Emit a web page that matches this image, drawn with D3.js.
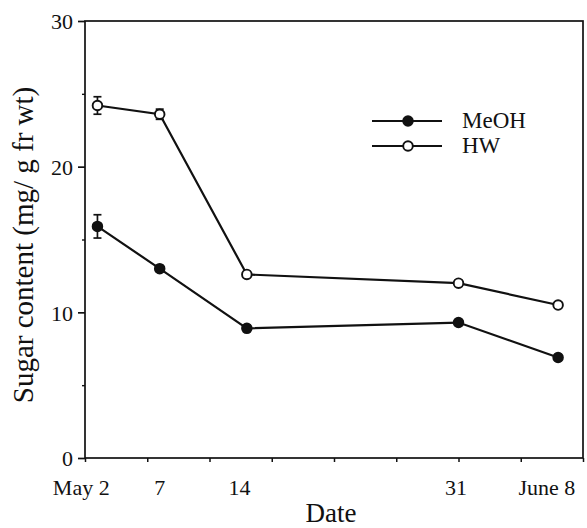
<!DOCTYPE html>
<html>
<head>
<meta charset="utf-8">
<script src="https://cdn.jsdelivr.net/npm/d3@7"></script>
<style>
  body { margin: 0; background: #fff; }
  svg text { font-family: "Liberation Serif", "DejaVu Serif", serif; fill: #111; }
</style>
</head>
<body>
<div id="chart"></div>
<script>
var width = 587,
    height = 528;

// days after May 2
var days = [0, 5, 12, 29, 37];
var meoh = [15.9, 13.0, 8.9, 9.3, 6.9];
var meohErr = [0.8, 0.2, 0.2, 0.2, 0.2];
var hw = [24.2, 23.6, 12.6, 12.0, 10.5];
var hwErr = [0.6, 0.35, 0.2, 0.2, 0.2];

// tick labels and where they sit along the date axis
var dateLabels = ["May 2", "7", "14", "31", "June 8"];
var dateLabelPos = [-1.3, 5, 11.4, 28.8, 36.1];
var yMajor = [0, 10, 20, 30];
var yMinor = [5, 15, 25];

var plotLeft = 85, plotRight = 583, plotTop = 21, plotBottom = 458;

var x = d3.scaleLinear().domain([-1, 39]).range([plotLeft, plotRight]);
var y = d3.scaleLinear().domain([0, 30]).range([plotBottom, plotTop]);

var svg = d3.select("#chart")
  .append("svg")
    .attr("width", width)
    .attr("height", height);

// frame
svg.append("rect")
  .attr("x", plotLeft)
  .attr("y", plotTop)
  .attr("width", plotRight - plotLeft)
  .attr("height", plotBottom - plotTop)
  .attr("fill", "none")
  .attr("stroke", "#111")
  .attr("stroke-width", 1.7);

// y axis
var yAxis = svg.append("g")
  .attr("transform", "translate(" + plotLeft + ",0)")
  .call(d3.axisLeft(y).tickValues(yMajor).tickSize(7).tickPadding(5).tickFormat(d3.format("d")));
yAxis.select(".domain").remove();
yAxis.selectAll("line").attr("stroke", "#111").attr("stroke-width", 1.7);
yAxis.selectAll("text").style("font-size", "22px").attr("dy", "0.35em");

var yAxisMinor = svg.append("g")
  .attr("transform", "translate(" + plotLeft + ",0)")
  .call(d3.axisLeft(y).tickValues(yMinor).tickSize(3).tickFormat(""));
yAxisMinor.select(".domain").remove();
yAxisMinor.selectAll("line").attr("stroke", "#111").attr("stroke-width", 1.4);

// x axis tick marks (every 5 days)
var xAxis = svg.append("g")
  .attr("transform", "translate(0," + plotBottom + ")")
  .call(d3.axisBottom(x).tickValues(d3.range(-1, 40, 5)).tickSize(4).tickFormat(""));
xAxis.select(".domain").remove();
xAxis.selectAll("line").attr("stroke", "#111").attr("stroke-width", 1.5);

// x tick labels
svg.append("g").selectAll("text")
  .data(dateLabels)
  .enter()
  .append("text")
    .attr("x", function(d, i) { return x(dateLabelPos[i]); })
    .attr("y", 495)
    .attr("text-anchor", "middle")
    .style("font-size", "22px")
    .text(function(d) { return d; });

// axis titles
svg.append("text")
  .attr("x", 331)
  .attr("y", 522)
  .attr("text-anchor", "middle")
  .style("font-size", "27px")
  .text("Date");

svg.append("text")
  .attr("transform", "translate(33," + 245 + ") rotate(-90)")
  .attr("text-anchor", "middle")
  .style("font-size", "29px")
  .text("Sugar content (mg/ g fr wt)");

// series
var series = [
  {name: "MeOH", values: meoh, err: meohErr, fill: "#111"},
  {name: "HW", values: hw, err: hwErr, fill: "#fff"}
];

var line = d3.line()
  .x(function(d) { return x(d.day); })
  .y(function(d) { return y(d.value); });

series.forEach(function(s) {
  var pts = days.map(function(d, i) { return {day: d, value: s.values[i], err: s.err[i]}; });

  svg.append("path")
    .datum(pts)
    .attr("d", line)
    .attr("fill", "none")
    .attr("stroke", "#111")
    .attr("stroke-width", 2.2);

  // error bars
  var eb = svg.append("g").selectAll("g")
    .data(pts)
    .enter()
    .append("g");
  eb.append("line")
    .attr("x1", function(d) { return x(d.day); })
    .attr("x2", function(d) { return x(d.day); })
    .attr("y1", function(d) { return y(d.value - d.err); })
    .attr("y2", function(d) { return y(d.value + d.err); })
    .attr("stroke", "#111")
    .attr("stroke-width", 1.7);
  [-1, 1].forEach(function(sign) {
    eb.append("line")
      .attr("x1", function(d) { return x(d.day) - 4; })
      .attr("x2", function(d) { return x(d.day) + 4; })
      .attr("y1", function(d) { return y(d.value + sign * d.err); })
      .attr("y2", function(d) { return y(d.value + sign * d.err); })
      .attr("stroke", "#111")
      .attr("stroke-width", 1.7);
  });

  svg.append("g").selectAll("circle")
    .data(pts)
    .enter()
    .append("circle")
      .attr("cx", function(d) { return x(d.day); })
      .attr("cy", function(d) { return y(d.value); })
      .attr("r", 4.8)
      .attr("fill", s.fill)
      .attr("stroke", "#111")
      .attr("stroke-width", 1.9);
});

// legend
var legend = svg.append("g")
  .selectAll("g")
  .data(series)
  .enter()
  .append("g")
    .attr("transform", function(d, i) { return "translate(0," + (121 + i * 25) + ")"; });

legend.append("line")
  .attr("x1", 372)
  .attr("x2", 442)
  .attr("stroke", "#111")
  .attr("stroke-width", 2.2);
legend.append("circle")
  .attr("cx", 408)
  .attr("r", 4.8)
  .attr("fill", function(d) { return d.fill; })
  .attr("stroke", "#111")
  .attr("stroke-width", 1.9);
legend.append("text")
  .attr("x", 462)
  .attr("y", 7)
  .style("font-size", "23px")
  .text(function(d) { return d.name; });
</script>
</body>
</html>
